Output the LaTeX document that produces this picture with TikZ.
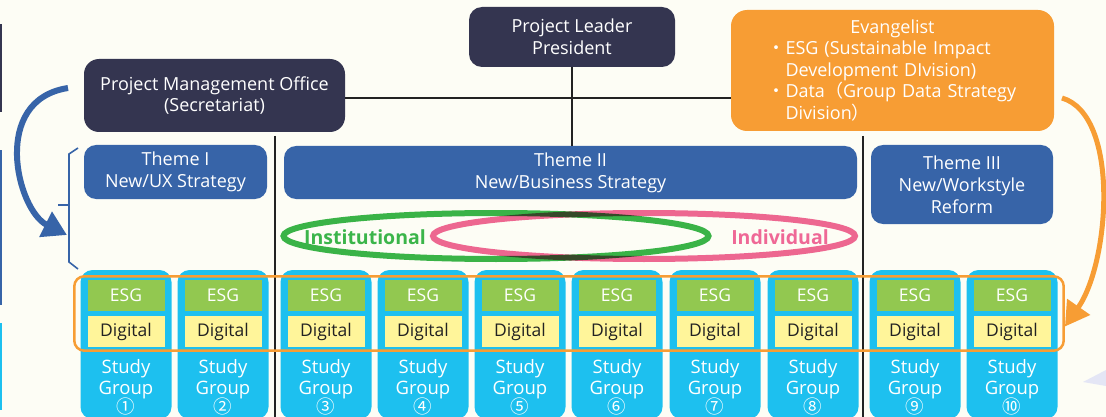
\documentclass[tikz,border=0pt]{standalone}
\usepackage{fontspec}
\setmainfont{Open Sans}
\newfontfamily\cjk{Noto Sans CJK JP}
\usetikzlibrary{shapes.geometric, arrows.meta, positioning, fit}

\definecolor{paper}{RGB}{253,253,245}
\definecolor{navy}{RGB}{52,53,80}
\definecolor{evorange}{RGB}{247,157,52}
\definecolor{themeblue}{RGB}{55,100,168}
\definecolor{sgcyan}{RGB}{29,192,239}
\definecolor{esggreen}{RGB}{146,200,80}
\definecolor{digiyellow}{RGB}{255,245,154}
\definecolor{instgreen}{RGB}{59,181,74}
\definecolor{indpink}{RGB}{239,104,150}
\definecolor{ink}{RGB}{34,34,34}
\definecolor{lavender}{RGB}{228,230,245}

\begin{document}
\begin{tikzpicture}[
	x=1pt, y=-1pt,
	darkbox/.style={rectangle, rounded corners=13pt, fill=navy, text=white, align=center, inner sep=0pt, font=\fontsize{18}{21.5}\selectfont},
	theme/.style={rectangle, rounded corners=12pt, fill=themeblue, text=white, align=center, inner sep=0pt, font=\fontsize{18}{22}\selectfont},
	sgcol/.style={rectangle, rounded corners=12pt, fill=sgcyan, minimum width=91pt, minimum height=149pt, inner sep=0pt},
	tag/.style={rectangle, minimum width=77pt, minimum height=31pt, inner sep=0pt, font=\fontsize{17.5}{18}\selectfont},
	sgtext/.style={align=center, text=white, inner sep=0pt, font=\fontsize{18.5}{21.5}\selectfont},
	conn/.style={line width=2.2pt, draw=ink},
	ring/.style={ellipse, line width=6pt, inner sep=0pt, minimum height=46pt},
	bigarrow/.style={line width=6pt, -{Triangle[length=24pt, width=27pt]}}
]
	\useasboundingbox (0,0) rectangle (1106,417);
	\clip (0,0) rectangle (1106,417);
	\fill[paper] (0,0) rectangle (1106,417);

	% cut-off bars at the left edge
	\fill[navy] (0,24) rectangle (2,112);
	\fill[themeblue] (0,150) rectangle (2,305);
	\fill[sgcyan] (0,323) rectangle (2,410);
	\fill[lavender] (1083,382) -- (1106,370) -- (1106,386) -- cycle;

	% Management layer
	\node[darkbox, minimum width=206pt, minimum height=60pt] (leader) at (572,37) {Project Leader\\President};
	\node[darkbox, rounded corners=15pt, minimum width=261pt, minimum height=73pt] (pmo) at (214.5,95.5) {Project Management Office\\(Secretariat)};
	\node[darkbox, rounded corners=16pt, fill=evorange, minimum width=323pt, minimum height=121pt, text width=250pt, align=left] (evang) at (892.5,70.5)
		{\makebox[250pt]{Evangelist}\\{\cjk ・}ESG (Sustainable Impact\\\hphantom{\cjk ・}Development DIvision)\\{\cjk ・}Data{\cjk （}Group Data Strategy\\\hphantom{\cjk ・}Division{\cjk ）}};

	% Themes
	\node[theme, minimum width=183pt, minimum height=54pt] (theme1) at (175.5,172) {Theme I\\New/UX Strategy};
	\node[theme, minimum width=573pt, minimum height=53pt] (theme2) at (570.5,172.5) {Theme II\\New/Business Strategy};
	\node[theme, minimum width=182pt, minimum height=79pt] (theme3) at (962,184.5) {Theme III\\New/Workstyle\\Reform};

	% Lines
	\coordinate (hub) at (572,98);
	\draw[conn] (leader.south) -- (leader.south |- theme2.north);
	\draw[conn] (pmo.east |- hub) -- (evang.west |- hub);
	\draw[conn] (275,136) -- (275,420);
	\draw[conn] (863,136) -- (863,420);

	% Study groups
	\foreach \x/\n [count=\i] in {126/①,223/②,326/③,423/④,520/⑤,617/⑥,715/⑦,813/⑧,915/⑨,1012/⑩} {
		\node[sgcol] (sg\i) at (\x,344.5) {};
		\node[tag, fill=esggreen, text=white] (esg\i) at (\x,295.5) {ESG};
		\node[tag, fill=digiyellow, text=ink] (digi\i) at (\x,331.5) {Digital};
		\node[sgtext] (sgt\i) at (\x,387) {Study\\Group\\[-3pt]{\cjk\fontsize{18.5}{18.5}\selectfont\n}};
	}
	\node[draw=evorange, line width=2.5pt, rounded corners=10pt, fit=(esg1)(digi10), inner xsep=13pt, inner ysep=3.5pt] (frame) {};

	% Institutional / Individual
	\begin{scope}[blend mode=multiply]
		\node[ring, draw=instgreen, minimum width=425pt] (inst) at (496,236) {};
		\node[ring, draw=indpink, minimum width=422pt] (indiv) at (644,236) {};
	\end{scope}
	\node[text=instgreen, font=\fontsize{19.5}{20}\selectfont\bfseries] (instlbl) at (365,237) {Institutional};
	\node[text=indpink, font=\fontsize{19.5}{20}\selectfont\bfseries] (indivlbl) at (780,237) {Individual};

	% Bracket round Theme I
	\coordinate (brk) at (69,205);
	\draw[themeblue, line width=1.6pt] (78,148) -- (69,154) -- (69,262) -- (78,269);
	\draw[themeblue, line width=1.6pt] (58,205) -- (brk);

	% Curved arrows
	\coordinate (pmoout) at (68,88);
	\coordinate (brkin) at (67,235);
	\draw[bigarrow, themeblue] (pmoout) .. controls (-10,100) and (17,210) .. (brkin);
	\coordinate (evout) at (1062,98);
	\draw[bigarrow, evorange, line width=5pt] (evout) .. controls (1120,115) and (1110,262) .. ([yshift=-13pt]frame.east);
\end{tikzpicture}
\end{document}
